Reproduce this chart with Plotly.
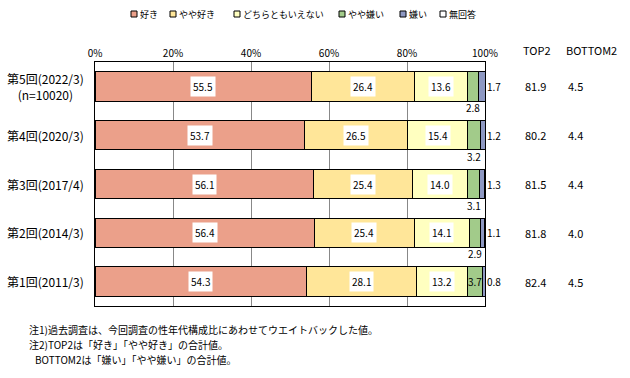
import plotly.graph_objects as go

categories = ["第1回(2011/3)", "第2回(2014/3)", "第3回(2017/4)", "第4回(2020/3)", "第5回(2022/3)"]
cat_labels = ["第1回(2011/3)", "第2回(2014/3)", "第3回(2017/4)", "第4回(2020/3)", "第5回(2022/3)<br>(n=10020)"]
series_names = ["好き", "やや好き", "どちらともいえない", "やや嫌い", "嫌い", "無回答"]
suki = [54.3, 56.4, 56.1, 53.7, 55.5]
yaya_suki = [28.1, 25.4, 25.4, 26.5, 26.4]
dochira = [13.2, 14.1, 14.0, 15.4, 13.6]
yaya_kirai = [3.7, 2.9, 3.1, 3.2, 2.8]
kirai = [0.8, 1.1, 1.3, 1.2, 1.7]
mukaitou = [0.0, 0.1, 0.1, 0.0, 0.0]
top2 = [82.4, 81.8, 81.5, 80.2, 81.9]
bottom2 = [4.5, 4.0, 4.4, 4.4, 4.5]
x_ticks = [0, 20, 40, 60, 80, 100]
x_ticklabels = ["0%", "20%", "40%", "60%", "80%", "100%"]
notes = ["注1)過去調査は、今回調査の性年代構成比にあわせてウエイトバックした値。",
         "注2)TOP2は「好き」「やや好き」の合計値。",
         "BOTTOM2は「嫌い」「やや嫌い」の合計値。"]

colors = ["#EBA08A", "#FFE699", "#FFFFC0", "#A2CB8A", "#8E98C2", "#FFFFFF"]
FONT = "Noto Sans CJK JP"

# layout helpers (pixel -> paper), plot area 95..485 x, 62..306 y
L, R, T, B = 95, 485, 62, 306
def px(x):
    return (x - L) / (R - L)
def py(y):
    return (B - y) / (B - T)

series = [suki, yaya_suki, dochira, yaya_kirai, kirai, mukaitou]

fig = go.Figure()
for name, vals, col in zip(series_names, series, colors):
    fig.add_trace(go.Bar(
        y=categories, x=vals, name=name, orientation="h",
        marker=dict(color=col, line=dict(color="black", width=1)),
        width=0.6, hoverinfo="x+name", showlegend=False))

ann = []
shapes = []
for i, cat in enumerate(categories):
    cum = 0
    starts = []
    for s in series:
        starts.append(cum)
        cum += s[i]
    for k in range(3):
        v = series[k][i]
        ann.append(dict(x=starts[k] + v / 2, y=cat, xref="x", yref="y",
                        xanchor="center", text=f"{v:.1f}", showarrow=False,
                        bgcolor="white", borderpad=2,
                        font=dict(size=10, color="black")))
    v = yaya_kirai[i]
    ann.append(dict(x=starts[3] + v / 2, y=cat, xref="x", yref="y",
                    xanchor="center", text=f"{v:.1f}", showarrow=False,
                    yshift=0 if v >= 3.5 else -21,
                    font=dict(size=10, color="black")))
    ann.append(dict(x=px(494), y=cat, xref="paper", yref="y", xanchor="center",
                    text=f"{kirai[i]:.1f}", showarrow=False,
                    font=dict(size=10, color="black")))
    ann.append(dict(x=px(535), y=cat, xref="paper", yref="y", xanchor="center",
                    text=f"{top2[i]:.1f}", showarrow=False,
                    font=dict(size=11, color="black")))
    ann.append(dict(x=px(575), y=cat, xref="paper", yref="y", xanchor="center",
                    text=f"{bottom2[i]:.1f}", showarrow=False,
                    font=dict(size=11, color="black")))
    ann.append(dict(x=px(45), y=cat, xref="paper", yref="y", xanchor="center",
                    text=cat_labels[i], showarrow=False, align="center",
                    font=dict(size=12, color="black")))

ann.append(dict(x=px(537), y=py(40), xref="paper", yref="paper", xanchor="center",
                text="TOP2", showarrow=False, font=dict(size=11, color="black")))
ann.append(dict(x=px(591), y=py(40), xref="paper", yref="paper", xanchor="center",
                text="BOTTOM2", showarrow=False, font=dict(size=11, color="black")))
for (xx, yy), t in zip([(27, 329), (27, 344), (33, 359)], notes):
    ann.append(dict(x=px(xx), y=py(yy), xref="paper", yref="paper",
                    xanchor="left", yanchor="middle", text=t,
                    showarrow=False, font=dict(size=10, color="black")))

# custom legend
leg_x = [134, 173, 237, 342, 403, 443]
for xx, name, col in zip(leg_x, series_names, colors):
    shapes.append(dict(type="rect", xref="paper", yref="paper",
                       x0=px(xx - 3), x1=px(xx + 3), y0=py(17), y1=py(11),
                       fillcolor=col, line=dict(color="black", width=1)))
    ann.append(dict(x=px(xx + 4), y=py(14), xref="paper", yref="paper",
                    xanchor="left", yanchor="middle", text=name, showarrow=False,
                    font=dict(size=9, color="black")))

fig.update_layout(
    barmode="stack",
    width=630, height=378,
    margin=dict(l=L, r=630 - R, t=T, b=378 - B, autoexpand=False),
    paper_bgcolor="white", plot_bgcolor="white",
    font=dict(family=FONT, size=11, color="black"),
    showlegend=False,
    annotations=ann,
    shapes=shapes,
    xaxis=dict(range=[0, 100], side="top", tickvals=x_ticks,
               ticktext=x_ticklabels, showgrid=True, gridcolor="#888888",
               gridwidth=1, showline=True, mirror=True, linecolor="black",
               linewidth=1, zeroline=False, ticks="", fixedrange=True,
               tickfont=dict(size=10), automargin=False, ticklabelstandoff=0),
    yaxis=dict(categoryorder="array", categoryarray=categories,
               showticklabels=False, showline=True, fixedrange=True,
               mirror=True, linecolor="black", linewidth=1, ticks="",
               showgrid=False, automargin=False),
)

fig.write_html("out.html", config={"displayModeBar": False},
               post_script="document.body.style.margin='0px';document.body.style.overflow='hidden';")
